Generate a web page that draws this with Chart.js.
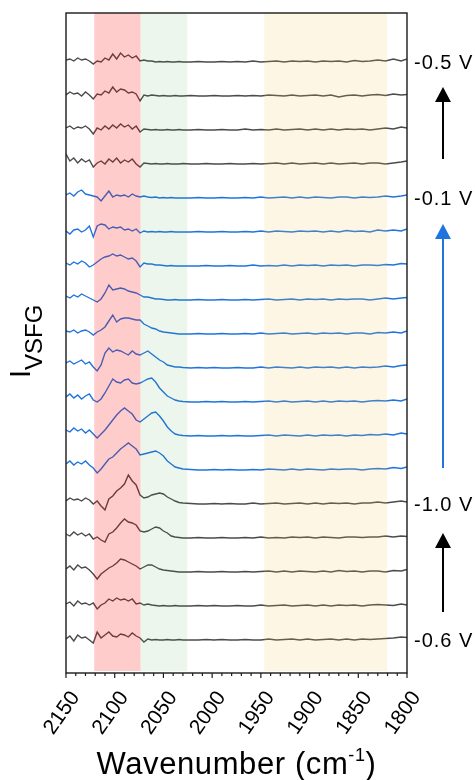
<!DOCTYPE html>
<html>
<head>
<meta charset="utf-8">
<script src="https://cdn.jsdelivr.net/npm/chart.js@4.4.1/dist/chart.umd.min.js"></script>
<style>
  html, body { margin: 0; padding: 0; background: #fff; }
</style>
</head>
<body>
<canvas id="chart" width="475" height="780"></canvas>
<script>
// wavenumber grid (cm-1), shared by every spectrum
const wavenumbers = [
  2150, 2146, 2142, 2138, 2134, 2130, 2126, 2122, 2118, 2114, 2110, 2106, 2102, 2098, 2094, 2090,
  2086, 2082, 2078, 2074, 2070, 2066, 2062, 2058, 2054, 2050, 2046, 2042, 2038, 2034, 2030,
  2022, 2014, 2006, 1998, 1990, 1982, 1974, 1966, 1958, 1950, 1942, 1934, 1926, 1918, 1910,
  1902, 1894, 1886, 1878, 1870, 1862, 1854, 1846, 1838, 1830, 1822, 1814, 1806, 1800
];

// spectra, top to bottom (signal above each trace's own baseline)
const s01 = [2,3,1,4,2,3,1,-2,1,0,4,2,8,3,9,5,7,4,6,1,2,1,1,0,0.5,0,0.5,0,0,0.5,0,
  0,0.5,0,0,0.5,0,0.5,0,1,0,0.5,1,0,1,0.5,1,0,1,0.5,1,0,1.5,0.5,1,2,1,3,1,3];
const s02 = [1,4,2,3,0,4,1,-3,2,1,5,3,9,4,7,6,3,4,2,-5,1,0,1,0.5,0,0.5,0,0,0.5,0,0,
  0.5,0,0,0.5,0,0,0.5,0,0.5,0,1,0.5,0,1,0,0.5,1,0,1,-1,0.5,1,0,1,1.5,0.5,2,1,1.5];
const s03 = [2,4,1,3,2,4,1,-4,2,0,4,1,5,2,6,3,5,1,4,-2,1,0.5,0,0.5,0,0,0.5,0,0,0.5,0,
  0,0.5,0,0,0.5,0,0,1,0,0.5,0,1,0,0.5,1,0,1,0,1,0,1,0.5,1,0,1,2,1,3,2];
const s04 = [10,3,6,1,5,2,4,-3,1,3,0,5,2,6,1,4,2,5,0,-3,1,0.5,0,0.5,0,0,0.5,0,0,0,0.5,
  0,0,0.5,0,0,0.5,0,0,0.5,0,0.5,1,0,1,0,0.5,1,0,1,0,0.5,1,0,1,1,0,1,2,3];
const s05 = [3,5,2,6,8,4,3,2,1,-3,2,7,1,3,2,3,1,4,2,1,2,1,0.5,1,0,0.5,0,0.5,0,0,0,
  0,0.5,0,0,0.5,0,0,0.5,0,1,0,0.5,1,0,1,0,1,0.5,0,1,1,0,1,0.5,1,2,1,2,3];
const s06 = [1,-2,2,3,0,2,6,-5,6,8,7,3,5,4,5,2,3,1,3,-1,1,0,0.5,0,0.5,0,0,0.5,0,0,0,
  0,0.5,0,0,0.5,0,0,0.5,0,1,0,1,0.5,0,1,0.5,1,0,1,0,1.5,0.5,1,0,2,1,2,1,3];
const s07 = [3,1,4,2,5,3,-1,1,4,7,9,10,12,10,11,9,7,8,5,-1,3,2,2,1,1,0.5,0,0.5,0,0,0,
  0,0,0.5,0,0,0.5,0,0,1,0,0.5,0,1,0,1,0.5,1,0,1,0.5,1,0,1,1,0.5,1.5,1,2.5,2];
const s08 = [4,2,5,3,6,4,2,0,-2,1,7,15,10,11,12,11,9,8,7,5,3,3,2,1,1,0.5,0,0,0.5,0,0,
  0,0.5,0,0,0.5,0,0,0.5,0,0.5,1,0,0.5,1,0,1,0.5,1,0,1,0.5,1,1,0,1,2,1,2,2.5];
const s09 = [3,2,4,1,3,4,2,-1,2,4,7,13,19,12,15,16,16,15,14,14,10,8,6,5,3,2,1.5,1,0.5,0,0,
  0,0.5,0,0,0.5,0,0,0.5,0,1,0,0.5,1,0,0.5,1,0,1,0.5,1,0,1,1,0,1.5,1,2,1,3];
const s10 = [5,7,4,6,8,4,6,1,-3,3,15,20,16,18,17,15,13,17,14,13,15,17,14,11,8,6,3,2,1,1,0.5,
  0,0.5,0,0.5,0,0,0.5,0,0,1,0,1,0.5,0,1,0,1,0.5,1,0,1,0,1,0.5,1,2,1,2.5,3];
const s11 = [5,8,4,7,3,6,8,2,0,3,9,16,23,20,19,22,23,19,18,19,21,23,24,20,14,10,6,4,2,1,0.5,
  0,0,0.5,0,0.5,0,0,0.5,0,0.5,1,0,1,0,0.5,1,0,1,0,1,0.5,1,0,1,1.5,1,2,1,3];
const s12 = [6,4,8,5,7,3,6,2,-2,2,6,11,16,21,25,28,25,22,16,14,17,20,23,24,20,15,9,5,2,1,0.5,
  0,0.5,0,0,0.5,0,0.5,0,0,0.5,1,0,1,0.5,0,1,0,1,0.5,1,0,1,0.5,1.5,1,2,1,3,2];
const s13 = [6,9,5,8,6,9,5,2,-3,1,6,11,13,17,21,24,27,24,21,15,16,17,18,19,17,14,9,6,3,2,1,
  0.5,0,0,0.5,0,0.5,0,0,0.5,0,1,0.5,0,1,0,1,0.5,0,1,0.5,1,1,0,1,1.5,1,2.5,1.5,3];
const s14 = [3,6,4,5,3,6,4,0,3,-2,-6,5,8,13,16,20,29,23,19,9,6,7,9,10,11,10,7,5,3,1.5,1,
  0.5,0,0,0.5,0,0.5,0,0,1,0,0.5,1,0,0.5,1,0,1,0,1,0.5,1,0,1,1,2,1,2,3,2];
const s15 = [4,2,6,3,5,2,4,-1,1,-2,-4,4,6,10,15,19,16,15,13,7,6,7,9,11,10,7,5,2,1,0.5,0,
  0,0.5,0,0,0.5,0,0,0.5,0,1,0,0.5,0,1,0.5,1,0,1,0.5,0,1,1,0.5,1,1,2,1,2,1.5];
const s16 = [3,6,2,7,4,5,2,-2,-7,-2,1,4,6,9,13,12,10,8,6,3,5,7,7,5,3,2,1.5,1,0.5,0,0,
  0,0.5,0,0,0.5,0,0,0.5,0,0.5,1,0,1,0,1,0.5,0,1,0,1.5,0.5,1,0,1,1,0,1.5,1,2.5];
const s17 = [2,4,0,5,2,3,1,3,-3,1,3,7,5,8,6,7,5,7,2,3,1,2,1,0.5,0,0.5,0,0,0.5,0,0,
  0,0.5,0,0.5,0,0,0.5,0,0,1,0,0.5,1,0,0.5,1,0,1,0,1,0.5,1,0,1,1.5,1,0.5,2,1];
const s18 = [1,4,-1,5,2,3,0,-3,8,2,5,8,4,3,6,5,3,7,4,2,-2,1,0,0.5,0,0,0.5,0,0,0.5,0,
  0,0,0.5,0,0.5,0,0,0.5,0,0,1,0,0.5,1,0,1,0,0.5,1,0,1,0,1,0.5,1,1.5,2,3,2.5];

const spectra = [s01, s02, s03, s04, s05, s06, s07, s08, s09, s10, s11, s12, s13, s14, s15, s16, s17, s18];
// traces recorded on the return sweep (drawn blue)
const sweepBack = [false, false, false, false, true, true, true, true, true, true, true, true, true,
  false, false, false, false, false];

// potential labels on the right: trace index -> text
const potentialTrace = [0, 4, 13, 17];
const potentialText = ['-0.5 V', '-0.1 V', '-1.0 V', '-0.6 V'];

// shaded wavenumber bands
const bandFrom = [2121, 2073.5, 1946.5];
const bandTo = [2073.5, 2025.5, 1820.5];

const xTicks = [2150, 2100, 2050, 2000, 1950, 1900, 1850, 1800];

const OFFSET_STEP = 34;
const OFFSET_BASE = 33;
const offsetOf = (i) => OFFSET_BASE + OFFSET_STEP * (spectra.length - 1 - i);

const GRAY = '#4b4b4b';
const BLUE = '#1f74de';
const FONT = '"Liberation Sans", Arial, sans-serif';

const datasets = spectra.map((s, i) => ({
  data: wavenumbers.map((w, j) => ({ x: w, y: offsetOf(i) + s[j] })),
  borderColor: sweepBack[i] ? BLUE : GRAY,
  borderWidth: 1.4,
  pointRadius: 0,
  tension: 0,
}));

function arrow(ctx, x, yFrom, yTo, color) {
  const head = 15, half = 8;
  ctx.strokeStyle = color;
  ctx.fillStyle = color;
  ctx.lineWidth = 2;
  ctx.beginPath();
  ctx.moveTo(x, yFrom);
  ctx.lineTo(x, yTo + head);
  ctx.stroke();
  ctx.beginPath();
  ctx.moveTo(x, yTo);
  ctx.lineTo(x - half, yTo + head);
  ctx.lineTo(x + half, yTo + head);
  ctx.closePath();
  ctx.fill();
}

const decor = {
  id: 'decor',
  afterDatasetsDraw(chart) {
    const { ctx, chartArea: a } = chart;
    const x = chart.scales.x, y = chart.scales.y;
    const spacing = (px) => { if ('letterSpacing' in ctx) ctx.letterSpacing = px; };
    ctx.save();

    // bands over the traces
    const bandColors = ['rgba(255,0,0,0.2)', 'rgba(60,160,60,0.09)', 'rgba(250,200,90,0.16)'];
    bandFrom.forEach((b, i) => {
      const x0 = x.getPixelForValue(b), x1 = x.getPixelForValue(bandTo[i]);
      ctx.fillStyle = bandColors[i];
      ctx.fillRect(x0, a.top, x1 - x0, a.bottom - 2 - a.top);
    });

    // frame
    ctx.strokeStyle = '#1a1a1a';
    ctx.lineWidth = 1.4;
    ctx.strokeRect(a.left, a.top, a.right - a.left, a.bottom - a.top);

    // bottom ticks
    ctx.lineWidth = 1.2;
    for (let v = 1800; v <= 2150; v += 10) {
      const px = x.getPixelForValue(v);
      const len = v % 50 === 0 ? 5 : 3;
      ctx.beginPath();
      ctx.moveTo(px, a.bottom);
      ctx.lineTo(px, a.bottom + len);
      ctx.stroke();
    }

    // tick labels
    ctx.fillStyle = '#000';
    ctx.font = '21px ' + FONT;
    ctx.textAlign = 'center';
    ctx.textBaseline = 'middle';
    xTicks.forEach((v) => {
      const px = x.getPixelForValue(v);
      ctx.save();
      ctx.translate(px - 4, a.bottom + 40);
      ctx.rotate(-55 * Math.PI / 180);
      ctx.fillText(String(v), 0, 0);
      ctx.restore();
    });

    // x title with superscript
    ctx.textAlign = 'left';
    ctx.textBaseline = 'alphabetic';
    const big = '31px ' + FONT, small = '18px ' + FONT;
    spacing('0.6px');
    ctx.font = big;
    const w1 = ctx.measureText('Wavenumber (cm').width;
    const w3 = ctx.measureText(')').width;
    ctx.font = small;
    const w2 = ctx.measureText('-1').width;
    const cx = (a.left + a.right) / 2;
    const tx = cx - (w1 + w2 + w3) / 2;
    const base = 774;
    ctx.font = big;
    ctx.fillText('Wavenumber (cm', tx, base);
    ctx.font = small;
    ctx.fillText('-1', tx + w1, base - 13);
    ctx.font = big;
    ctx.fillText(')', tx + w1 + w2, base);
    spacing('0px');

    // y title I_VSFG
    ctx.save();
    ctx.translate(0, 378);
    ctx.rotate(-Math.PI / 2);
    ctx.font = '29px ' + FONT;
    ctx.fillText('I', 0, 30);
    const wi = ctx.measureText('I').width;
    ctx.font = '24px ' + FONT;
    ctx.fillText('VSFG', wi, 42);
    ctx.restore();

    // potential labels
    ctx.font = '20px ' + FONT;
    ctx.textBaseline = 'middle';
    spacing('1px');
    potentialTrace.forEach((t, i) => {
      ctx.fillText(potentialText[i], a.right + 7, y.getPixelForValue(offsetOf(t)) + 1);
    });
    spacing('0px');

    // sweep arrows
    const ax = a.right + 36;
    arrow(ctx, ax, y.getPixelForValue(offsetOf(3)) - 5, y.getPixelForValue(offsetOf(0)) + 25, '#000');
    arrow(ctx, ax, y.getPixelForValue(offsetOf(12)) - 2, y.getPixelForValue(offsetOf(4)) + 26, BLUE);
    arrow(ctx, ax, y.getPixelForValue(offsetOf(17)) - 28, y.getPixelForValue(offsetOf(13)) + 29, '#000');

    ctx.restore();
  }
};

new Chart(document.getElementById('chart'), {
  type: 'line',
  data: { datasets },
  options: {
    responsive: false,
    animation: false,
    layout: { padding: { left: 66, right: 68, top: 13, bottom: 107 } },
    plugins: { legend: { display: false }, tooltip: { enabled: false } },
    scales: {
      x: { type: 'linear', min: 1800, max: 2150, reverse: true, display: false },
      y: { type: 'linear', min: 0, max: 660, display: false },
    },
  },
  plugins: [decor],
});
</script>
</body>
</html>
